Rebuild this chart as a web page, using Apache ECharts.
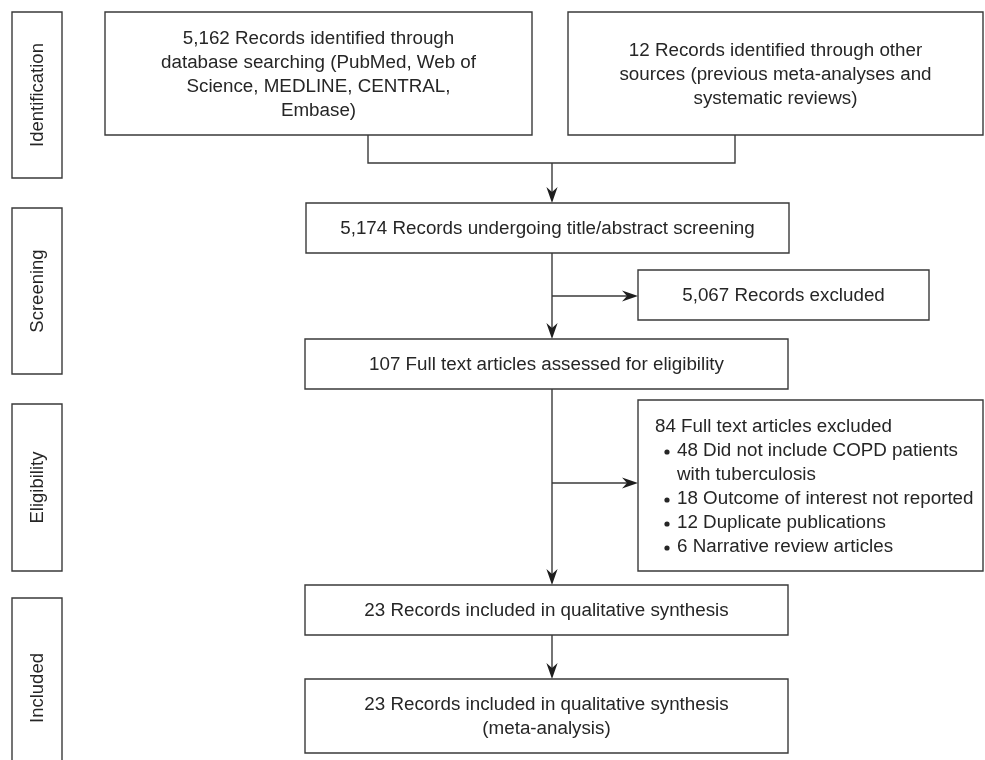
<!DOCTYPE html>
<html><head><meta charset="utf-8">
<script src="https://cdn.jsdelivr.net/npm/echarts@6/dist/echarts.min.js"></script>
<style>html,body{margin:0;padding:0;background:#fff}#c{width:985px;height:760px}</style>
</head><body><div id="c"></div>
<script>
// ---------- DATA ----------
const stageLabels = ['Identification', 'Screening', 'Eligibility', 'Included'];
const databaseRecords = 5162;
const databaseSources = 'PubMed, Web of Science, MEDLINE, CENTRAL, Embase';
const otherSourceRecords = 12;
const otherSources = 'previous meta-analyses and systematic reviews';
const screenedRecords = 5174;
const screenExcludedRecords = 5067;
const fullTextAssessed = 107;
const fullTextExcluded = 84;
const exclusionCounts = [48, 18, 12, 6];
const exclusionReasons = ['Did not include COPD patients|with tuberculosis', 'Outcome of interest not reported', 'Duplicate publications', 'Narrative review articles'];
const qualitativeRecords = 23;
const quantitativeRecords = 23;

const fmt = n => n.toLocaleString('en-US');

// box texts (line breaks as in the original figure)
const boxTexts = [
  fmt(databaseRecords) + ' Records identified through\ndatabase searching (PubMed, Web of\nScience, MEDLINE, CENTRAL,\nEmbase)',
  fmt(otherSourceRecords) + ' Records identified through other\nsources (previous meta-analyses and\nsystematic reviews)',
  fmt(screenedRecords) + ' Records undergoing title/abstract screening',
  fmt(screenExcludedRecords) + ' Records excluded',
  fmt(fullTextAssessed) + ' Full text articles assessed for eligibility',
  null,
  fmt(qualitativeRecords) + ' Records included in qualitative synthesis',
  fmt(quantitativeRecords) + ' Records included in qualitative synthesis\n(meta-analysis)'
];

// ---------- LAYOUT (positions in diagram units) ----------
const stageRects = [[12, 12, 62, 178], [12, 208, 62, 374], [12, 404, 62, 571], [12, 598, 62, 778]];
const boxRects = [
  [105, 12, 532, 135],
  [568, 12, 983, 135],
  [306, 203, 789, 253],
  [638, 270, 929, 320],
  [305, 339, 788, 389],
  [638, 400, 983, 571],
  [305, 585, 788, 635],
  [305, 679, 788, 753]
];
const connectorPaths = [[[368, 135], [368, 163], [735, 163], [735, 135]]];
const arrowPaths = [
  [[552, 163], [552, 203]],
  [[552, 253], [552, 339]],
  [[552, 296], [638, 296]],
  [[552, 389], [552, 585]],
  [[552, 483], [638, 483]],
  [[552, 635], [552, 679]]
];
const listLayout = { x: 655, bulletX: 667, textX: 677, y0: 427, step: 24 };

// ---------- STYLE ----------
const FONT_FAMILY = '"Liberation Sans", Arial, Helvetica, sans-serif';
const FONT_SIZE = 18.8;
const TEXT_COLOR = '#262626';
const LINE_COLOR = '#3a3a3a';
const LINE_W = 1.4;

function textStyle(extra) {
  return Object.assign({ fill: TEXT_COLOR, fontFamily: FONT_FAMILY, fontSize: FONT_SIZE, lineHeight: 24 }, extra);
}

function rectFrom(api) {
  const p0 = api.coord([api.value(0), api.value(1)]);
  const p1 = api.coord([api.value(2), api.value(3)]);
  return { x: Math.min(p0[0], p1[0]), y: Math.min(p0[1], p1[1]), w: Math.abs(p1[0] - p0[0]), h: Math.abs(p1[1] - p0[1]) };
}

function renderStage(params, api) {
  const r = rectFrom(api);
  return {
    type: 'group',
    children: [
      { type: 'rect', shape: { x: r.x, y: r.y, width: r.w, height: r.h }, style: { fill: '#fff', stroke: LINE_COLOR, lineWidth: LINE_W } },
      { type: 'text', x: r.x + r.w / 2 + 1, y: r.y + r.h / 2, rotation: Math.PI / 2,
        style: textStyle({ text: stageLabels[params.dataIndex], align: 'center', verticalAlign: 'middle', fontSize: 18.5 }) }
    ]
  };
}

function renderBox(params, api) {
  const i = params.dataIndex;
  const r = rectFrom(api);
  const children = [
    { type: 'rect', shape: { x: r.x, y: r.y, width: r.w, height: r.h }, style: { fill: '#fff', stroke: LINE_COLOR, lineWidth: LINE_W } }
  ];
  if (boxTexts[i] !== null) {
    children.push({ type: 'text', x: r.x + r.w / 2, y: r.y + r.h / 2 + 1,
      style: textStyle({ text: boxTexts[i], align: 'center', verticalAlign: 'middle' }) });
  } else {
    // exclusion list box
    let line = 0;
    const yAt = k => api.coord([0, listLayout.y0 + k * listLayout.step])[1];
    const xAt = v => api.coord([v, 0])[0];
    children.push({ type: 'text', x: xAt(listLayout.x), y: yAt(line++),
      style: textStyle({ text: fmt(fullTextExcluded) + ' Full text articles excluded', align: 'left', verticalAlign: 'middle' }) });
    exclusionCounts.forEach((c, k) => {
      const parts = exclusionReasons[k].split('|');
      children.push({ type: 'circle', shape: { cx: xAt(listLayout.bulletX), cy: yAt(line) + 1, r: 2.6 }, style: { fill: TEXT_COLOR } });
      parts.forEach((p, j) => {
        children.push({ type: 'text', x: xAt(listLayout.textX), y: yAt(line++),
          style: textStyle({ text: (j === 0 ? c + ' ' : '') + p, align: 'left', verticalAlign: 'middle' }) });
      });
    });
  }
  return { type: 'group', children };
}

function renderConnector(params, api) {
  const path = connectorPaths[params.dataIndex].map(p => api.coord(p));
  return { type: 'polyline', shape: { points: path }, style: { stroke: LINE_COLOR, lineWidth: LINE_W, fill: null } };
}

function renderArrow(params, api) {
  const s = api.coord([api.value(0), api.value(1)]);
  const e = api.coord([api.value(2), api.value(3)]);
  const len = Math.hypot(e[0] - s[0], e[1] - s[1]);
  const dx = (e[0] - s[0]) / len, dy = (e[1] - s[1]) / len;
  const px = -dy, py = dx;
  const L = 16, W = 5.6, N = 11;
  const head = [
    [e[0], e[1]],
    [e[0] - L * dx + W * px, e[1] - L * dy + W * py],
    [e[0] - N * dx, e[1] - N * dy],
    [e[0] - L * dx - W * px, e[1] - L * dy - W * py]
  ];
  return {
    type: 'group',
    children: [
      { type: 'line', shape: { x1: s[0], y1: s[1], x2: e[0] - N * dx, y2: e[1] - N * dy }, style: { stroke: LINE_COLOR, lineWidth: LINE_W } },
      { type: 'polygon', shape: { points: head }, style: { fill: '#1e1e1e' } }
    ]
  };
}

const chart = echarts.init(document.getElementById('c'), null, { renderer: 'canvas' });
chart.setOption({
  animation: false,
  backgroundColor: '#fff',
  grid: { left: 0, right: 0, top: 0, bottom: 0 },
  xAxis: { type: 'value', min: 0, max: 985, show: false },
  yAxis: { type: 'value', min: 0, max: 760, inverse: true, show: false },
  series: [
    { type: 'custom', name: 'connectors', renderItem: renderConnector, data: connectorPaths.map((p, i) => [i]), silent: true, clip: false },
    { type: 'custom', name: 'arrows', renderItem: renderArrow, data: arrowPaths.map(p => [p[0][0], p[0][1], p[1][0], p[1][1]]), silent: true, clip: false },
    { type: 'custom', name: 'stages', renderItem: renderStage, data: stageRects, silent: true, clip: false },
    { type: 'custom', name: 'boxes', renderItem: renderBox, data: boxRects, silent: true, clip: false }
  ]
});
</script>
</body></html>
